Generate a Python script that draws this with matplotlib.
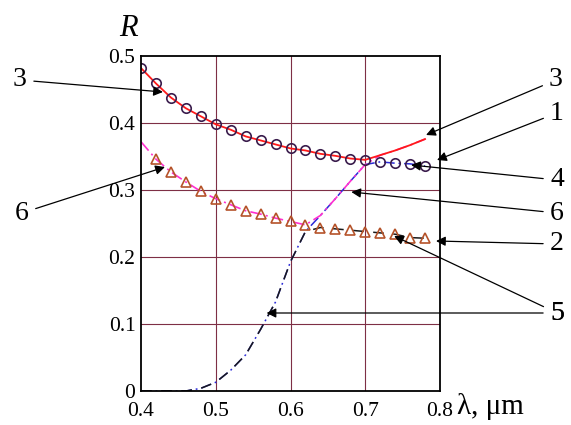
import numpy as np
import matplotlib.pyplot as plt

plt.rcParams['font.family'] = ['Liberation Serif', 'DejaVu Serif']

# wavelength grid (um)
lam = [0.40, 0.42, 0.44, 0.46, 0.48, 0.50, 0.52, 0.54, 0.56, 0.58,
       0.60, 0.62, 0.64, 0.66, 0.68, 0.70, 0.72, 0.74, 0.76, 0.78]

# curve 1 (circles)
R1 = [0.482, 0.459, 0.438, 0.422, 0.410, 0.398, 0.390, 0.380, 0.374, 0.368,
      0.362, 0.359, 0.354, 0.351, 0.347, 0.345, 0.342, 0.340, 0.339, 0.336]
# curve 2 (triangles), first point only on the line
R2 = [0.372, 0.346, 0.327, 0.312, 0.298, 0.287, 0.278, 0.269, 0.264, 0.258,
      0.253, 0.248, 0.244, 0.242, 0.240, 0.238, 0.236, 0.234, 0.229, 0.228]
# rising curve
Rr = [0.000, 0.000, 0.000, 0.000, 0.004, 0.013, 0.031, 0.054, 0.092, 0.133,
      0.193, 0.238, 0.262, 0.287, 0.313, 0.338, 0.352, 0.359, 0.367, 0.376]

lam = np.array(lam)
R1 = np.array(R1)
R2 = np.array(R2)
Rr = np.array(Rr)

R3 = np.maximum(R1, Rr)
R4 = np.minimum(R1, Rr)
R5 = np.minimum(R2, Rr)
R6 = np.maximum(R2, Rr)

fig = plt.figure(figsize=(5.71, 4.25), dpi=100)
ax = fig.add_axes([141/571, 1-391/425, 299/571, 335/425])

grid_c = '#7e2f45'
for xv in [0.5, 0.6, 0.7]:
    ax.axvline(xv, color=grid_c, lw=0.8, zorder=0)
for yv in [0.1, 0.2, 0.3, 0.4]:
    ax.axhline(yv, color=grid_c, lw=0.8, zorder=0)

ax.plot(lam, R4, color='#2a2ad8', lw=1.1, dashes=(7, 2.5, 1.2, 2.5))
ax.plot(lam, R5, color='#1a1a1a', lw=1.1, dashes=(7, 6.2))
ax.plot(lam, R6, color='#ff30d0', lw=1.2, dashes=(7, 2.5, 1.2, 2.5))
ax.plot(lam, R3, color='#ff1a1a', lw=1.3)

ax.plot(lam, R1, ls='none', marker='o', ms=6.8, mfc='none',
        mec='#3a1c4c', mew=1.2)
ax.plot(lam[1:], R2[1:], ls='none', marker='^', ms=6.8, mfc='none',
        mec='#b5532a', mew=1.2)

ax.set_xlim(0.4, 0.8)
ax.set_ylim(0, 0.5)
ax.set_xticks([0.4, 0.5, 0.6, 0.7, 0.8])
ax.set_xticklabels(['0.4', '0.5', '0.6', '0.7', '0.8'])
ax.set_yticks([0, 0.1, 0.2, 0.3, 0.4, 0.5])
ax.set_yticklabels(['0', '0.1', '0.2', '0.3', '0.4', '0.5'])
ax.tick_params(length=0, labelsize=15.5, pad=4)
ax.tick_params(axis='x', pad=8)
for s in ax.spines.values():
    s.set_linewidth(1.3)
    s.set_color('black')

fig.text(128/571, 1-28/425, 'R', fontsize=22, style='italic',
         ha='center', va='center')
fig.text(457/571, 1-406/425, 'λ, μm', fontsize=21, ha='left', va='center')

def px(x, y):
    return (x, 425 - y)

def data(x, y):
    return (0.4 + (x - 141) / 750, (391 - y) / 670)

labels = [
    ('3', (20, 80), (163, 92)),
    ('6', (22, 213), (165, 167)),
    ('3', (556, 80), (427, 135)),
    ('1', (557, 113), (438, 160)),
    ('4', (557, 180), (412, 165)),
    ('6', (557, 213), (352, 192)),
    ('2', (557, 244), (437, 241)),
    ('5', (557, 313), (395, 236)),
    ('5', (557, 313), (267, 313)),
]
for txt, tp, tip in labels:
    ax.annotate(txt, xy=data(*tip), xycoords='data',
                xytext=px(*tp), textcoords='figure pixels',
                fontsize=20, ha='center', va='center',
                annotation_clip=False,
                arrowprops=dict(arrowstyle='-|>', color='black', lw=0.9,
                                mutation_scale=14, shrinkA=3, shrinkB=0))

fig.savefig('out.png', dpi=100)
